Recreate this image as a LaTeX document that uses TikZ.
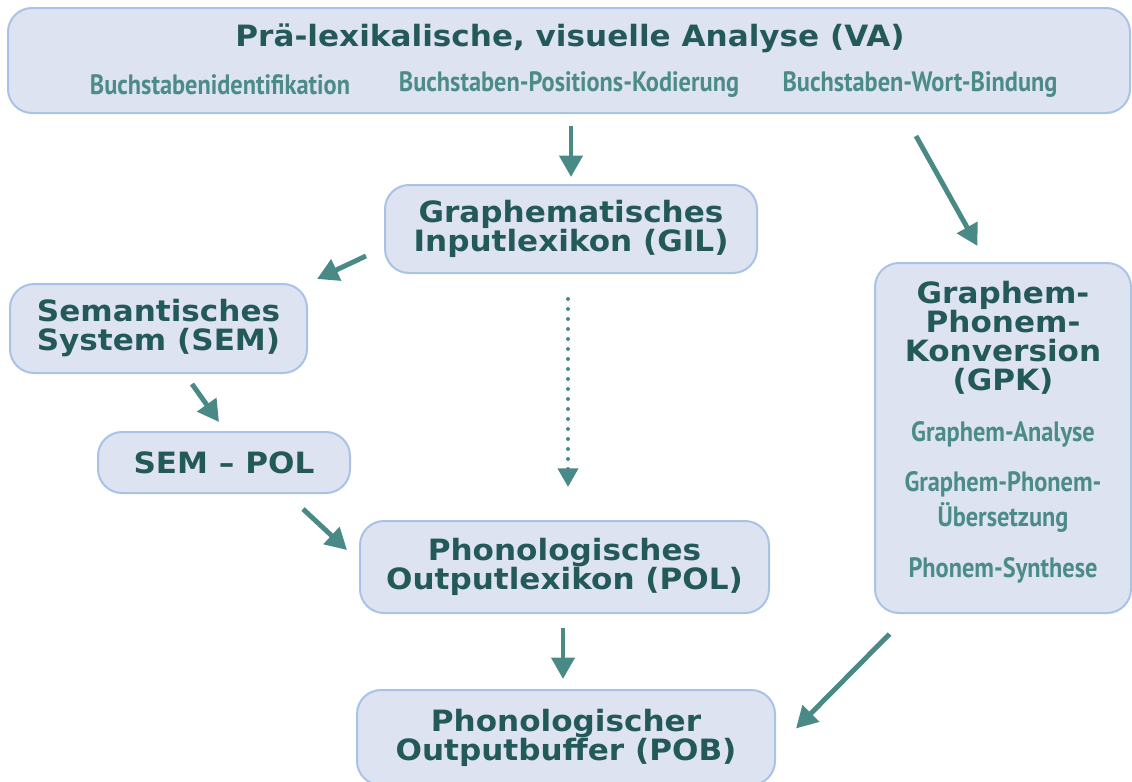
\documentclass[tikz,border=0pt]{standalone}
\usepackage{fontspec}
\setmainfont[FakeStretch=1.06]{DejaVu Sans}
\newfontfamily\subf[FakeStretch=0.87]{PT Sans}
\usetikzlibrary{arrows.meta}
\definecolor{boxfill}{HTML}{DEE3F2}
\definecolor{boxline}{HTML}{A8C3E6}
\definecolor{titlec}{HTML}{24595A}
\definecolor{subc}{HTML}{4B8B88}
\definecolor{arrc}{HTML}{4A8A86}
\def\u{0.75pt}
\tikzset{
  box/.style={draw=boxline, fill=boxfill, line width=1.5pt, rounded corners=18pt, inner sep=0pt},
  ttl/.style={text=titlec, font=\fontsize{22}{21.75}\selectfont\bfseries, align=center, inner sep=0pt},
  subt/.style={text=subc, font=\fontsize{21}{26}\selectfont\subf\bfseries, align=center, inner sep=0pt},
  arr/.style={draw=arrc, line width=3.7pt, -{Triangle[length=16pt,width=17pt]}},
  dotarr/.style={draw=arrc, line width=3pt, line cap=round, dash pattern=on 0pt off 7.5pt, -{Triangle[length=14pt,width=15pt]}}
}
\begin{document}
\begin{tikzpicture}[x=0.75pt,y=-0.75pt]
\useasboundingbox (0,0) rectangle (1132,782);
% boxes
\node[box, minimum width=1122*\u, minimum height=105*\u] (va) at (569,60.5) {};
\node[ttl] (vat) at (570,38.5) {Prä-lexikalische, visuelle Analyse (VA)};
\node[subt] (va1) at (220,85) {Buchstabenidentifikation};
\node[subt] (va2) at (569,85) {Buchstaben-Positions-Kodierung};
\node[subt] (va3) at (920,85) {Buchstaben-Wort-Bindung};

\node[box, ttl, minimum width=372*\u, minimum height=88*\u] (gil) at (571,229) {Graphematisches\\Inputlexikon (GIL)};
\node[box, ttl, minimum width=297*\u, minimum height=89*\u] (sem) at (158.5,328.5) {Semantisches\\System (SEM)};
\node[box, ttl, minimum width=252*\u, minimum height=61*\u] (sempol) at (224,462.5) {SEM -- POL};
\node[box, ttl, minimum width=409*\u, minimum height=92*\u] (pol) at (564.5,567) {Phonologisches\\Outputlexikon (POL)};
\node[box, ttl, minimum width=418*\u, minimum height=95*\u] (pob) at (566,737.5) {Phonologischer\\Outputbuffer (POB)};

\node[box, minimum width=256*\u, minimum height=350*\u] (gpk) at (1003,438) {};
\node[ttl] (gpkt) at (1003,338) {Graphem-\\Phonem-\\Konversion\\(GPK)};
\node[subt] (gpk1) at (1003,434) {Graphem-Analyse};
\node[subt] (gpk2) at (1003,502) {Graphem-Phonem-\\Übersetzung};
\node[subt] (gpk3) at (1003,570) {Phonem-Synthese};

% connectors
\draw[arr] ([yshift=-12*\u]va.south -| gil.north) -- ([yshift=7*\u]gil.north);
\draw[arr] ([shift={(-215,22)}]va.south east) -- ([shift={(-25.5,-16)}]gpk.north);
\draw[arr] ([shift={(-18,-18)}]gil.south west) -- ([shift={(9,-4)}]sem.north east);
\draw[dotarr] ([shift={(-3,25)}]gil.south) -- ([shift={(3.5,-33)}]pol.north);
\draw[arr] ([shift={(33.5,10)}]sem.south) -- ([shift={(-5,-9)}]sempol.north);
\draw[arr] ([shift={(-48,15)}]sempol.south east) -- ([shift={(-12,-17)}]pol.west);
\draw[arr] ([shift={(-1.5,14)}]pol.south) -- ([shift={(-3,-10)}]pob.north);
\draw[arr] ([shift={(-113.5,20)}]gpk.south) -- ([shift={(20,-9)}]pob.east);
\end{tikzpicture}
\end{document}
